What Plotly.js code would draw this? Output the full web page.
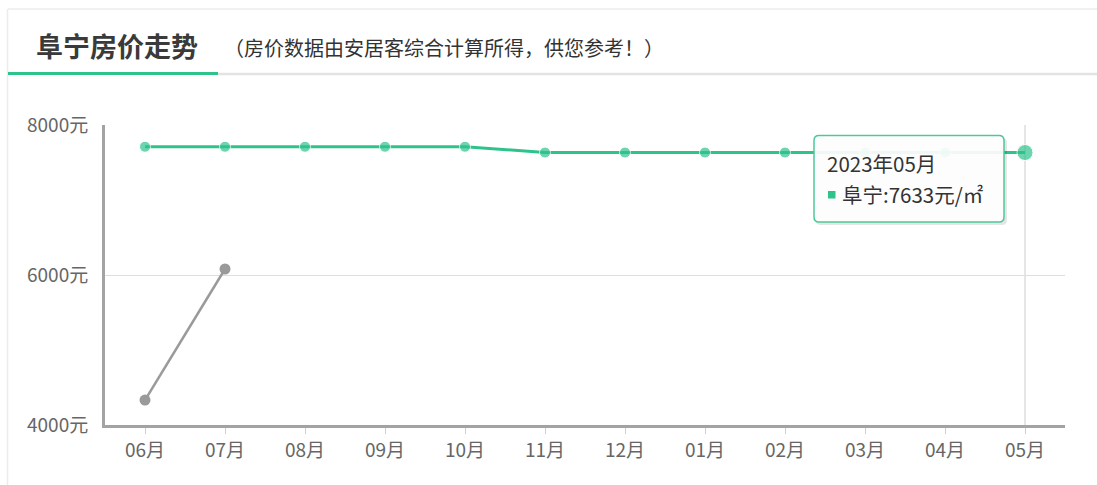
<!DOCTYPE html>
<html>
<head>
<meta charset="utf-8">
<script src="https://cdn.plot.ly/plotly-3.0.1.min.js"></script>
<style>
html,body{margin:0;padding:0;background:#fff;}
#chart{width:1097px;height:485px;}
</style>
</head>
<body>
<div id="chart"></div>
<script>
const months = ["06月","07月","08月","09月","10月","11月","12月","01月","02月","03月","04月","05月"];
const funingPrice = [7710,7710,7710,7710,7710,7633,7633,7633,7633,7633,7633,7633];
const otherPrice = [4333,6080,null,null,null,null,null,null,null,null,null,null];
const yTicks = [4000,6000,8000];
const yTickText = ["4000元","6000元","8000元"];
const cityName = "阜宁";
const hoverLabel = "2023年05月";
const titleText = "阜宁房价走势";
const subtitleText = "（房价数据由安居客综合计算所得，供您参考！）";

const GREEN = "#2fc38c";
const GRAY = "#9a9a9a";
const FONT = "Noto Sans CJK SC, sans-serif";

const W = 1097, H = 485, L = 105, R = 1065, T = 125, B = 425;
const px = x => (x - L) / (R - L);
const py = y => (B - y) / (B - T);

const last = funingPrice.length - 1;
const greenSizes = funingPrice.map((v, i) => i === last ? 16 : 11);

function roundRect(x0, y0, x1, y1, r) {
  const rx = r / (R - L), ry = r / (B - T);
  const a = px(x0), b = px(x1), top = py(y0), bot = py(y1);
  return `M${a+rx},${top} L${b-rx},${top} Q${b},${top} ${b},${top-ry} L${b},${bot+ry} Q${b},${bot} ${b-rx},${bot} L${a+rx},${bot} Q${a},${bot} ${a},${bot+ry} L${a},${top-ry} Q${a},${top} ${a+rx},${top} Z`;
}

const traces = [
  {
    x: months, y: funingPrice, type: "scatter", mode: "lines+markers",
    line: {color: GREEN, width: 3},
    marker: {color: GREEN, size: greenSizes},
    hoverinfo: "skip", cliponaxis: false
  },
  {
    x: months, y: otherPrice, type: "scatter", mode: "lines+markers",
    line: {color: GRAY, width: 2.5},
    marker: {color: GRAY, size: 11},
    connectgaps: false, hoverinfo: "skip", cliponaxis: false
  }
];

const layout = {
  width: W, height: H,
  margin: {l: L, r: W - R, t: T, b: H - B, pad: 0},
  paper_bgcolor: "#fff", plot_bgcolor: "#fff",
  showlegend: false,
  font: {family: FONT, color: "#555", size: 18},
  xaxis: {
    type: "category", range: [-0.5, months.length - 0.5],
    showgrid: false, zeroline: false,
    showline: true, linecolor: "#a3a3a3", linewidth: 3,
    ticks: "outside", ticklen: 6, tickcolor: "#d0d0d0", tickwidth: 1,
    tickfont: {family: FONT, size: 19, color: "#666"},
    fixedrange: true
  },
  yaxis: {
    range: [4000, 8000], tickmode: "array", tickvals: yTicks, ticktext: yTickText,
    showgrid: true, gridcolor: "#dedede", gridwidth: 1, zeroline: false,
    showline: true, linecolor: "#a3a3a3", linewidth: 3,
    ticks: "", ticklabelstandoff: 10,
    tickfont: {family: FONT, size: 19, color: "#666"},
    fixedrange: true
  },
  shapes: [
    {type: "line", xref: "paper", yref: "paper", x0: px(8), x1: px(1097), y0: py(9), y1: py(9), line: {color: "#ececec", width: 1.5}},
    {type: "line", xref: "paper", yref: "paper", x0: px(7.5), x1: px(7.5), y0: py(9), y1: py(485), line: {color: "#ececec", width: 1.5}},
    {type: "line", xref: "paper", yref: "paper", x0: px(218), x1: px(1097), y0: py(74), y1: py(74), line: {color: "#e3e3e3", width: 2.5}},
    {type: "line", xref: "paper", yref: "paper", x0: px(8), x1: px(218), y0: py(73.5), y1: py(73.5), line: {color: GREEN, width: 3}},
    {type: "line", xref: "x", yref: "paper", x0: last, x1: last, y0: 0, y1: 1, line: {color: "#cccccc", width: 1}, layer: "below"},
    {type: "path", xref: "paper", yref: "paper", path: roundRect(816, 138, 1007, 225, 5), fillcolor: "rgba(0,0,0,0.10)", line: {width: 0}},
    {type: "path", xref: "paper", yref: "paper", path: roundRect(814, 135.5, 1004, 222, 5), fillcolor: "rgba(255,255,255,0.92)", line: {color: "#4cc99a", width: 1.5}},
    {type: "rect", xref: "paper", yref: "paper", x0: px(828), x1: px(835.5), y0: py(191), y1: py(198.5), fillcolor: GREEN, line: {width: 0}}
  ],
  annotations: [
    {xref: "paper", yref: "paper", x: px(34), y: py(45), xanchor: "left", yanchor: "middle", showarrow: false,
     text: "<b>" + titleText + "</b>", font: {family: FONT, size: 27, color: "#3a3a3a"}},
    {xref: "paper", yref: "paper", x: px(222), y: py(47), xanchor: "left", yanchor: "middle", showarrow: false,
     text: subtitleText, font: {family: FONT, size: 20, color: "#333"}},
    {xref: "paper", yref: "paper", x: px(825), y: py(163), xanchor: "left", yanchor: "middle", showarrow: false,
     text: hoverLabel, font: {family: FONT, size: 20.5, color: "#333"}},
    {xref: "paper", yref: "paper", x: px(840), y: py(193.5), xanchor: "left", yanchor: "middle", showarrow: false,
     text: cityName + ":" + funingPrice[last] + "元/㎡", font: {family: FONT, size: 20.5, color: "#333"}}
  ]
};

Plotly.newPlot("chart", traces, layout, {displayModeBar: false, staticPlot: true});
</script>
</body>
</html>
